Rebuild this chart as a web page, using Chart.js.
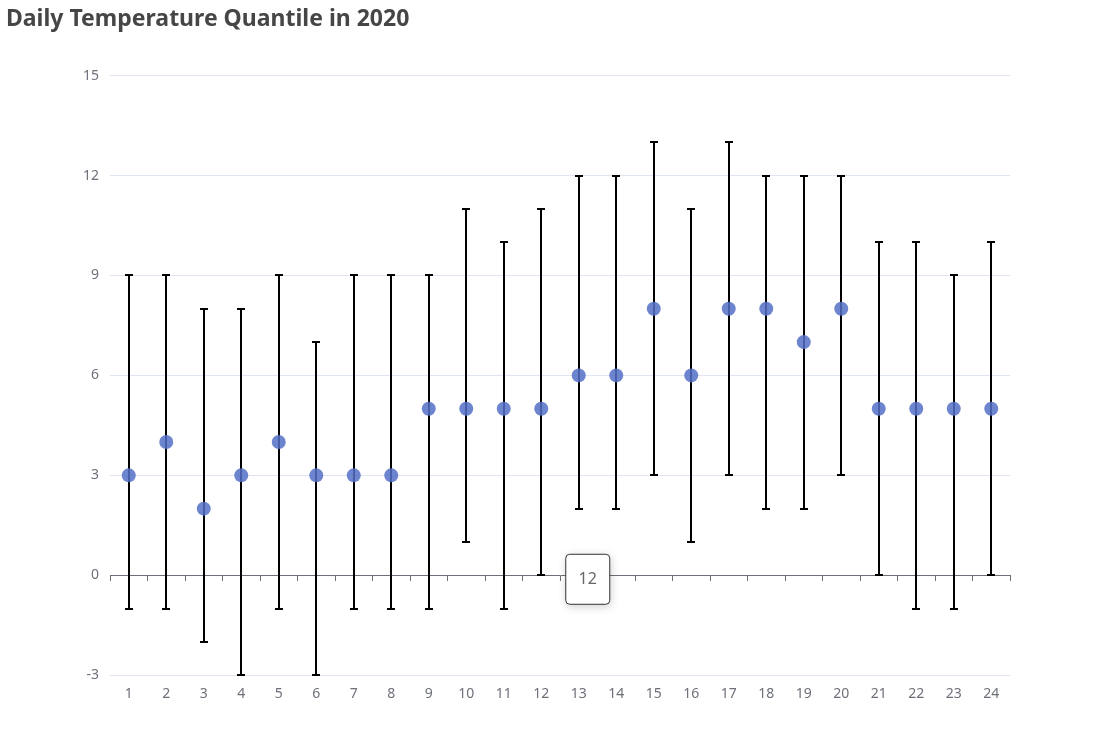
<!DOCTYPE html>
<html>
<head>
<meta charset="utf-8">
<title>Daily Temperature Quantile in 2020</title>
<script src="https://cdn.jsdelivr.net/npm/chart.js@4.4.1/dist/chart.umd.min.js"></script>
<style>
  html, body { margin: 0; padding: 0; background: #fff; }
  #wrap { width: 1111px; height: 750px; position: relative; }
</style>
</head>
<body>
<div id="wrap"><canvas id="chart"></canvas></div>
<script>
const days = ['1','2','3','4','5','6','7','8','9','10','11','12','13','14','15','16','17','18','19','20','21','22','23','24'];
const median = [3, 4, 2, 3, 4, 3, 3, 3, 5, 5, 5, 5, 6, 6, 8, 6, 8, 8, 7, 8, 5, 5, 5, 5];
const low = [-1, -1, -2, -3, -1, -3, -1, -1, -1, 1, -1, 0, 2, 2, 3, 1, 3, 2, 2, 3, 0, -1, -1, 0];
const high = [9, 9, 8, 8, 9, 7, 9, 9, 9, 11, 10, 11, 12, 12, 13, 11, 13, 12, 12, 12, 10, 10, 9, 10];
const tooltipLabel = '12';

const fontFamily = '"Noto Sans", "Open Sans", sans-serif';

// error bars under the points
const errorBars = {
  id: 'errorBars',
  beforeDatasetsDraw(chart) {
    const ctx = chart.ctx;
    const y = chart.scales.y;
    const meta = chart.getDatasetMeta(0);
    ctx.save();
    ctx.strokeStyle = '#000';
    ctx.lineWidth = 2;
    meta.data.forEach((pt, i) => {
      const x = Math.round(pt.x);
      const yl = Math.round(y.getPixelForValue(low[i]));
      const yh = Math.round(y.getPixelForValue(high[i]));
      ctx.beginPath();
      ctx.moveTo(x, yl);
      ctx.lineTo(x, yh);
      ctx.moveTo(x - 4, yl);
      ctx.lineTo(x + 4, yl);
      ctx.moveTo(x - 4, yh);
      ctx.lineTo(x + 4, yh);
      ctx.stroke();
    });
    ctx.restore();
  }
};

// the little hover box that sits on the zero axis
const hoverBox = {
  id: 'hoverBox',
  afterDraw(chart) {
    const ctx = chart.ctx;
    const x = chart.scales.x.getPixelForValue(12) + 9;
    const y = chart.scales.y.getPixelForValue(0) + 4;
    const w = 44, h = 50;
    ctx.save();
    ctx.shadowColor = 'rgba(0,0,0,0.2)';
    ctx.shadowBlur = 10;
    ctx.shadowOffsetX = 1;
    ctx.shadowOffsetY = 2;
    ctx.fillStyle = '#fff';
    ctx.beginPath();
    ctx.roundRect(x - w / 2, y - h / 2, w, h, 4);
    ctx.fill();
    ctx.shadowColor = 'transparent';
    ctx.strokeStyle = '#333';
    ctx.lineWidth = 1;
    ctx.stroke();
    ctx.fillStyle = '#666';
    ctx.font = '16px ' + fontFamily;
    ctx.textAlign = 'center';
    ctx.textBaseline = 'middle';
    ctx.fillText(tooltipLabel, x, y);
    ctx.restore();
  }
};

new Chart(document.getElementById('chart'), {
  type: 'line',
  data: {
    labels: days,
    datasets: [{
      data: median,
      showLine: false,
      pointRadius: 7,
      pointHoverRadius: 7,
      pointBorderWidth: 0,
      pointBackgroundColor: 'rgba(84,112,198,0.85)'
    }]
  },
  options: {
    responsive: true,
    maintainAspectRatio: false,
    animation: false,
    events: [],
    layout: { padding: { left: 6, right: 101, top: 0, bottom: 46 } },
    plugins: {
      legend: { display: false },
      tooltip: { enabled: false },
      title: {
        display: true,
        text: 'Daily Temperature Quantile in 2020',
        align: 'start',
        color: '#464646',
        font: { family: fontFamily, size: 23, weight: 'bold' },
        padding: { top: 6, bottom: 42 },
        fullSize: true
      }
    },
    scales: {
      x: {
        type: 'category',
        offset: true,
        grid: { display: false },
        border: { display: false },
        ticks: { color: '#6E7079', font: { family: fontFamily, size: 14 }, padding: 2 }
      },
      x2: {
        type: 'category',
        labels: days,
        offset: true,
        position: { y: 0 },
        grid: { offset: true, drawOnChartArea: false, drawTicks: true, tickLength: 5, color: '#6E7079' },
        border: { display: true, color: '#6E7079', width: 1 },
        ticks: { display: false }
      },
      y: {
        min: -3,
        max: 15,
        afterFit(scale) { scale.width = 104; },
        ticks: { stepSize: 3, color: '#6E7079', font: { family: fontFamily, size: 14 }, padding: 11 },
        grid: { color: '#E0E6F1', drawTicks: false },
        border: { display: false }
      }
    }
  },
  plugins: [errorBars, hoverBox]
});
</script>
</body>
</html>
